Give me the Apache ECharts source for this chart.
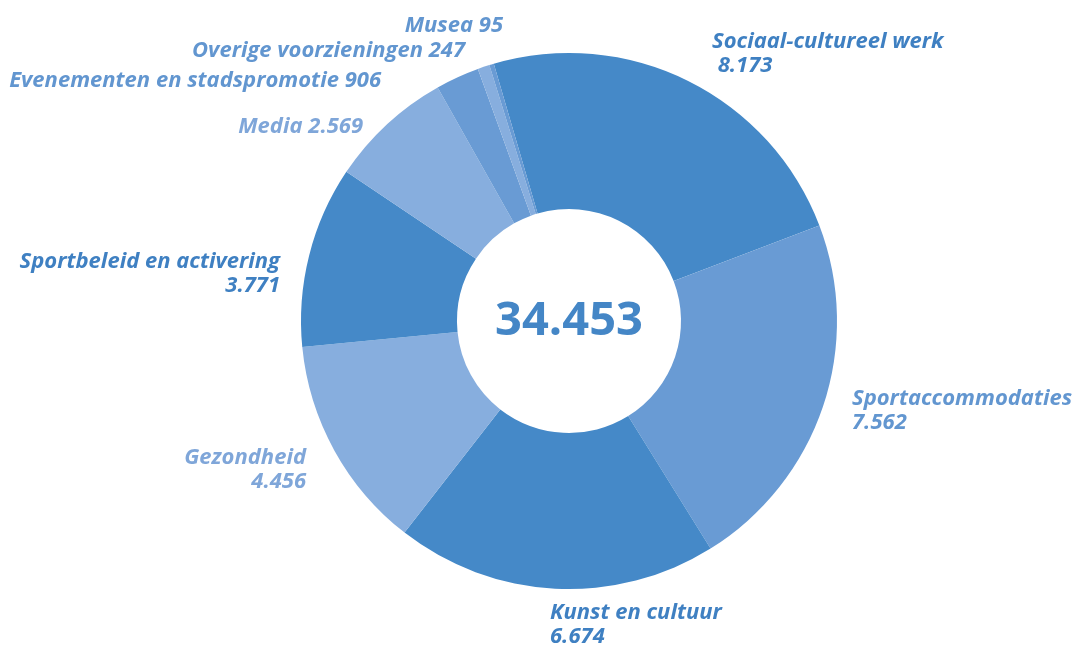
<!DOCTYPE html>
<html>
<head>
<meta charset="utf-8">
<style>
  html, body { margin: 0; padding: 0; background: #ffffff; }
  #chart { width: 1075px; height: 646px; }
</style>
<script src="https://cdn.jsdelivr.net/npm/echarts@6/dist/echarts.min.js"></script>
</head>
<body>
<div id="chart"></div>
<script>
// Budget per domain, clockwise from the top
const categories = [
  'Sociaal-cultureel werk',
  'Sportaccommodaties',
  'Kunst en cultuur',
  'Gezondheid',
  'Sportbeleid en activering',
  'Media',
  'Evenementen en stadspromotie',
  'Overige voorzieningen',
  'Musea'
];
const values = [8173, 7562, 6674, 4456, 3771, 2569, 906, 247, 95];

// Shades of blue
const DARK = '#4589c8', MID = '#699bd4', LIGHT = '#87aede';
const sliceColors = [DARK, MID, DARK, LIGHT, DARK, LIGHT, MID, LIGHT, MID];
const labelColors = ['#3f80c2', '#6296d0', '#3f80c2', '#7fa6d9', '#3f80c2', '#7fa6d9', '#6296d0', '#6296d0', '#6296d0'];

// Label placement: anchor x/y, alignment, one or two lines
const labelPlace = [
  { x: 712, y: 30,  align: 'left',  split: true, indent: true },
  { x: 852, y: 387, align: 'left',  split: true },
  { x: 550, y: 601, align: 'left',  split: true },
  { x: 306, y: 446, align: 'right', split: true },
  { x: 280, y: 250, align: 'right', split: true },
  { x: 363, y: 115, align: 'right', split: false },
  { x: 381, y: 69,  align: 'right', split: false },
  { x: 465, y: 39,  align: 'right', split: false },
  { x: 503, y: 14,  align: 'right', split: false }
];

const fmt = v => v.toString().replace(/\B(?=(\d{3})+(?!\d))/g, '.');
const total = values.reduce((a, b) => a + b, 0);

const FONT = '"Open Sans", "DejaVu Sans", sans-serif';

const chart = echarts.init(document.getElementById('chart'), null, { renderer: 'canvas' });

chart.setOption({
  animation: false,
  backgroundColor: '#ffffff',
  graphic: [{
    type: 'text',
    style: {
      x: 569, y: 322,
      text: fmt(total),
      fill: '#4486c6',
      font: 'bold 47px ' + FONT,
      align: 'center',
      verticalAlign: 'middle'
    }
  }],
  series: [{
    type: 'pie',
    center: [569, 321],
    radius: [112, 268],
    startAngle: 106.3,
    clockwise: true,
    avoidLabelOverlap: false,
    silent: true,
    itemStyle: { borderWidth: 0 },
    labelLine: { show: false },
    label: {
      show: true,
      position: 'outside',
      fontFamily: FONT,
      fontStyle: 'italic',
      fontWeight: 'bold',
      fontSize: 22,
      lineHeight: 24,
      formatter: p => {
        const pl = labelPlace[p.dataIndex];
        if (!pl.split) return p.name + ' ' + fmt(p.value);
        return p.name + '\n' + (pl.indent ? ' ' : '') + fmt(p.value);
      }
    },
    labelLayout: p => {
      const pl = labelPlace[p.dataIndex];
      return { x: pl.x, y: pl.y, align: pl.align, verticalAlign: 'top', hideOverlap: false };
    },
    data: categories.map((name, i) => ({
      name,
      value: values[i],
      itemStyle: { color: sliceColors[i] },
      label: { color: labelColors[i] }
    }))
  }]
});
</script>
</body>
</html>
